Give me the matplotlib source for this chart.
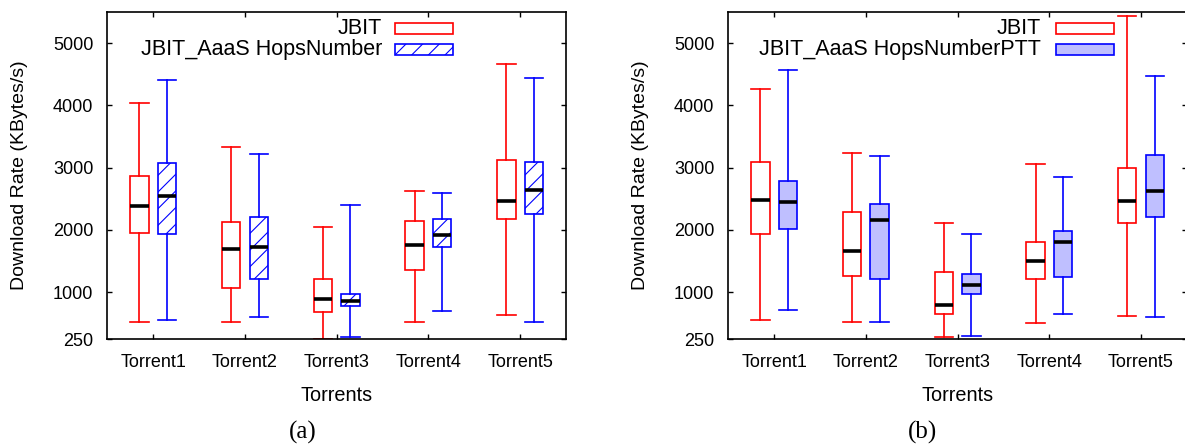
import matplotlib.pyplot as plt
import numpy as np
from matplotlib.patches import Rectangle

plt.rcParams['font.family'] = ['Liberation Sans', 'DejaVu Sans']
plt.rcParams['hatch.linewidth'] = 0.8

torrents = ["Torrent1", "Torrent2", "Torrent3", "Torrent4", "Torrent5"]
yticks = [250, 1000, 2000, 3000, 4000, 5000]

# (a) JBIT
a_jbit_low = [519, 519, 251, 524, 631]
a_jbit_q1 = [1952, 1070, 679, 1364, 2176]
a_jbit_med = [2380, 1695, 898, 1754, 2460]
a_jbit_q3 = [2861, 2123, 1209, 2139, 3118]
a_jbit_high = [4043, 3326, 2048, 2631, 4663]

# (a) JBIT_AaaS HopsNumber
a_hops_low = [556, 604, 278, 706, 524]
a_hops_q1 = [1941, 1214, 781, 1722, 2251]
a_hops_med = [2551, 1722, 866, 1920, 2636]
a_hops_q3 = [3075, 2203, 973, 2182, 3086]
a_hops_high = [4406, 3214, 2406, 2599, 4444]

# (b) JBIT
b_jbit_low = [562, 524, 283, 513, 620]
b_jbit_q1 = [1930, 1262, 647, 1209, 2107]
b_jbit_med = [2476, 1658, 797, 1503, 2471]
b_jbit_q3 = [3086, 2283, 1321, 1813, 3000]
b_jbit_high = [4267, 3235, 2118, 3059, 5428]

# (b) JBIT_AaaS HopsNumberPTT
b_ptt_low = [711, 519, 305, 647, 599]
b_ptt_q1 = [2021, 1214, 979, 1241, 2203]
b_ptt_med = [2449, 2160, 1112, 1807, 2631]
b_ptt_q3 = [2791, 2422, 1289, 1979, 3198]
b_ptt_high = [4561, 3182, 1941, 2856, 4476]


def stats(low, q1, med, q3, high):
    return [dict(whislo=l, q1=a, med=m, q3=b, whishi=h)
            for l, a, m, b, h in zip(low, q1, med, q3, high)]


def draw_box(ax, st, pos, color, face, hatch=None):
    ax.bxp(st, positions=pos, widths=0.2, capwidths=0.2, patch_artist=True,
           showfliers=False, manage_ticks=False,
           boxprops=dict(facecolor=face, edgecolor=color, linewidth=1.2, hatch=hatch),
           whiskerprops=dict(color=color, linewidth=1.2),
           capprops=dict(color=color, linewidth=1.2),
           medianprops=dict(color='black', linewidth=2.6, solid_capstyle='butt'))


def legend_row(ax, x_text, x_box, y, label, color, face, hatch=None):
    ax.add_patch(Rectangle((x_box, y - 0.017), 0.126, 0.034, transform=ax.transAxes,
                           facecolor=face, edgecolor=color, linewidth=1.2,
                           hatch=hatch, clip_on=False))
    ax.text(x_text, y, label, transform=ax.transAxes, ha='right', va='center',
            fontsize=15.5)


def setup(ax):
    ax.set_xlim(0.5, 5.5)
    ax.set_ylim(250, 5500)
    ax.set_xticks(np.arange(1, 6))
    ax.set_xticklabels(torrents)
    ax.set_yticks(yticks)
    ax.tick_params(direction='in', top=True, right=True, length=3.6, width=1,
                   labelsize=13)
    ax.tick_params(axis='x', pad=10.5)
    ax.tick_params(axis='y', pad=10)
    for s in ax.spines.values():
        s.set_linewidth(1.2)
    ax.set_xlabel("Torrents", fontsize=14.3)
    ax.set_ylabel("Download Rate (KBytes/s)", fontsize=14)
    ax.xaxis.set_label_coords(0.5, -0.143)
    ax.yaxis.set_label_coords(-0.174, 0.5)


x = np.arange(1, 6)

fig = plt.figure(figsize=(11.85, 4.48), dpi=100)
ax1 = fig.add_axes([0.0906, 0.2433, 0.387, 0.730])
ax2 = fig.add_axes([0.6146, 0.2433, 0.387, 0.730])

draw_box(ax1, stats(a_jbit_low, a_jbit_q1, a_jbit_med, a_jbit_q3, a_jbit_high),
         x - 0.15, 'red', 'white')
draw_box(ax1, stats(a_hops_low, a_hops_q1, a_hops_med, a_hops_q3, a_hops_high),
         x + 0.15, 'blue', 'white', '//')
setup(ax1)
legend_row(ax1, 0.599, 0.628, 0.950, "JBIT", 'red', 'white')
legend_row(ax1, 0.599, 0.628, 0.884, "JBIT_AaaS HopsNumber", 'blue', 'white', '//')

draw_box(ax2, stats(b_jbit_low, b_jbit_q1, b_jbit_med, b_jbit_q3, b_jbit_high),
         x - 0.15, 'red', 'white')
draw_box(ax2, stats(b_ptt_low, b_ptt_q1, b_ptt_med, b_ptt_q3, b_ptt_high),
         x + 0.15, 'blue', '#bfbfff')
setup(ax2)
legend_row(ax2, 0.682, 0.714, 0.950, "JBIT", 'red', 'white')
legend_row(ax2, 0.682, 0.714, 0.884, "JBIT_AaaS HopsNumberPTT", 'blue', '#bfbfff')

fig.text(0.2553, 0.034, "(a)", ha='center', va='center', fontsize=18,
         family='Liberation Serif')
fig.text(0.7789, 0.034, "(b)", ha='center', va='center', fontsize=18,
         family='Liberation Serif')

fig.savefig("out.png", dpi=100)
